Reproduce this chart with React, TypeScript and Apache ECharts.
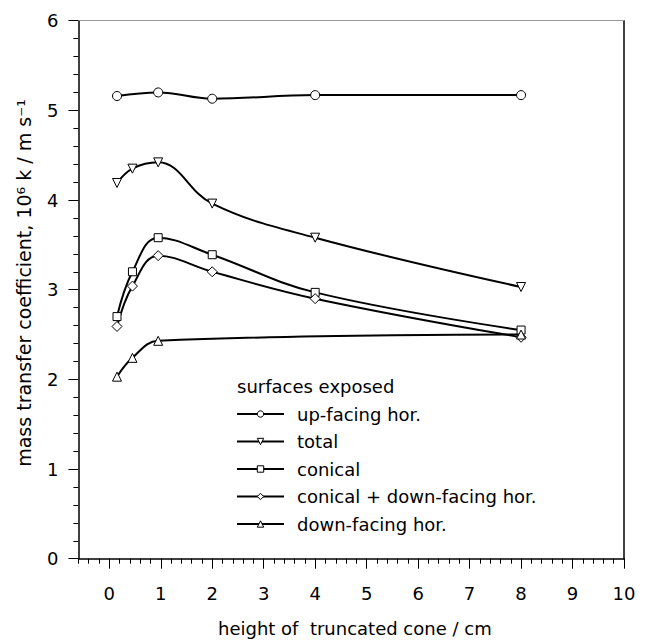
import React, { useEffect, useRef } from "react";
import * as echarts from "echarts";

const seriesNames = [
  "up-facing hor.",
  "total",
  "conical",
  "conical + down-facing hor.",
  "down-facing hor.",
];
const upFacing: [number, number][] = [[0.15, 5.16], [0.95, 5.2], [2, 5.13], [4, 5.17], [8, 5.17]];
const total: [number, number][] = [[0.15, 4.19], [0.45, 4.35], [0.95, 4.42], [2, 3.96], [4, 3.58], [8, 3.03]];
const conical: [number, number][] = [[0.15, 2.7], [0.45, 3.2], [0.95, 3.58], [2, 3.39], [4, 2.97], [8, 2.55]];
const conicalDown: [number, number][] = [[0.15, 2.59], [0.45, 3.04], [0.95, 3.38], [2, 3.2], [4, 2.9], [8, 2.47]];
const downFacing: [number, number][] = [[0.15, 2.03], [0.45, 2.24], [0.95, 2.43], [8, 2.5]];
const xTickValues = [0, 1, 2, 3, 4, 5, 6, 7, 8, 9, 10];
const symbols = ["circle", "triangle", "rect", "diamond", "triangle"];
const rotations = [0, 180, 0, 0, 0];
const symbolSizes = [9, 9, 8, 10, 9];

const FONT = "DejaVu Sans";

export default function App() {
  const ref = useRef<HTMLDivElement>(null);
  useEffect(() => {
    if (!ref.current) return;
    const chart = echarts.init(ref.current, undefined, { renderer: "svg" });
    const datasets = [upFacing, total, conical, conicalDown, downFacing];
    const series = datasets.map((d, i) => ({
      name: seriesNames[i],
      type: "line",
      xAxisIndex: 0,
      yAxisIndex: 0,
      data: d,
      smooth: 0.4,
      symbol: symbols[i],
      symbolSize: symbolSizes[i],
      symbolRotate: rotations[i],
      showAllSymbol: true,
      lineStyle: { color: "#000", width: 2 },
      itemStyle: { color: "#fff", borderColor: "#000", borderWidth: 1 },
      emphasis: { disabled: true },
      z: 3,
    }));
    chart.setOption({
      animation: false,
      backgroundColor: "#fff",
      textStyle: { fontFamily: FONT },
      grid: { left: 78.4, right: 26, top: 20.7, bottom: 82.3, containLabel: false },
      xAxis: [
        {
          type: "value",
          position: "bottom",
          min: -0.6,
          max: 10,
          interval: 0.2,
          axisLine: { show: true, onZero: false, lineStyle: { color: "#000", width: 1.5 } },
          axisTick: {
            show: true,
            inside: false,
            length: 10,
            customValues: xTickValues,
            lineStyle: { color: "#000", width: 1 },
          },
          axisLabel: {
            show: true,
            customValues: xTickValues,
            margin: 26,
            fontSize: 18,
            fontFamily: FONT,
            color: "#000",
          },
          splitLine: { show: false },
        },
        {
          type: "value",
          position: "bottom",
          min: -0.6,
          max: 10,
          interval: 0.2,
          axisLine: { show: false, onZero: false },
          axisTick: { show: true, inside: false, length: 5, lineStyle: { color: "#000", width: 1 } },
          axisLabel: { show: false },
          splitLine: { show: false },
        },
        {
          type: "value",
          position: "top",
          min: -0.6,
          max: 10,
          axisLine: { show: true, onZero: false, lineStyle: { color: "#999", width: 1 } },
          axisTick: { show: false },
          axisLabel: { show: false },
          splitLine: { show: false },
        },
      ],
      yAxis: [
        {
          type: "value",
          position: "left",
          min: 0,
          max: 6,
          interval: 1,
          axisLine: { show: true, onZero: false, lineStyle: { color: "#000", width: 1.5 } },
          axisTick: { show: true, inside: false, length: 10, lineStyle: { color: "#000", width: 1 } },
          minorTick: { show: true, splitNumber: 5, length: 5, lineStyle: { color: "#000", width: 1 } },
          axisLabel: { show: true, margin: 20, fontSize: 18, fontFamily: FONT, color: "#000" },
          splitLine: { show: false },
        },
        {
          type: "value",
          position: "right",
          min: 0,
          max: 6,
          axisLine: { show: true, onZero: false, lineStyle: { color: "#000", width: 1.5 } },
          axisTick: { show: false },
          axisLabel: { show: false },
          splitLine: { show: false },
        },
      ],
      legend: {
        show: true,
        orient: "vertical",
        left: 236,
        top: 405,
        itemWidth: 47,
        itemHeight: 8,
        itemGap: 9.5,
        padding: 0,
        selectedMode: false,
        data: seriesNames,
        itemStyle: { color: "#fff", borderColor: "#000", borderWidth: 1 },
        lineStyle: { color: "#000", width: 2 },
        textStyle: { fontSize: 18, fontFamily: FONT, color: "#000", padding: [0, 0, 0, 8] },
      },
      graphic: [
        {
          type: "text",
          left: 237,
          top: 377,
          style: { text: "surfaces exposed", fontSize: 18, fontFamily: FONT, fill: "#000" },
        },
        {
          type: "text",
          left: 218,
          top: 619,
          style: { text: "height of  truncated cone / cm", fontSize: 18, fontFamily: FONT, fill: "#000" },
        },
        {
          type: "text",
          x: 24,
          y: 283,
          rotation: Math.PI / 2,
          style: {
            text: "mass transfer coefficient, 10⁶ k / m s⁻¹",
            fontSize: 19,
            fontFamily: FONT,
            fill: "#000",
            align: "center",
            verticalAlign: "middle",
          },
        },
      ],
      series,
    });
    return () => chart.dispose();
  }, []);
  return (
    <div
      ref={ref}
      style={{ position: "fixed", left: 0, top: 0, width: 650, height: 641, background: "#fff" }}
    />
  );
}
